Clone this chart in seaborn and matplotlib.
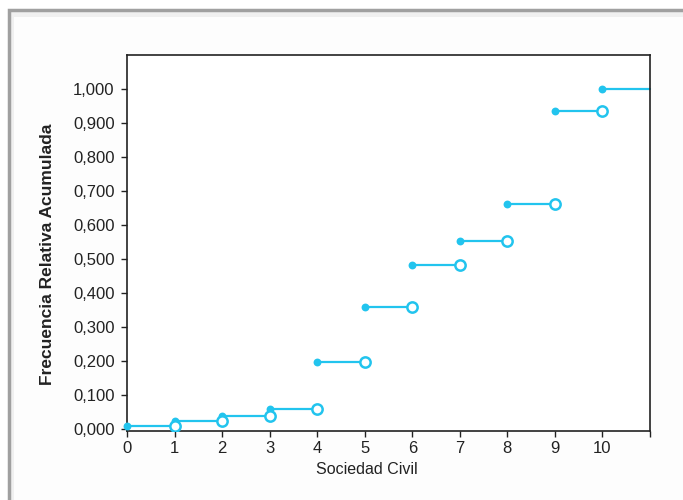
import pandas as pd
import seaborn as sns
import matplotlib.pyplot as plt
from matplotlib.ticker import FuncFormatter
from matplotlib.patches import Rectangle

# Step function data (cumulative relative frequency)
x_start = [0, 1, 2, 3, 4, 5, 6, 7, 8, 9, 10]
x_end = [1, 2, 3, 4, 5, 6, 7, 8, 9, 10, 11]
frec_acum = [0.010, 0.024, 0.039, 0.059, 0.197, 0.360, 0.483, 0.552, 0.662, 0.936, 1.000]
x_ticks = [0, 1, 2, 3, 4, 5, 6, 7, 8, 9, 10, 11]
x_tick_labels = ["0", "1", "2", "3", "4", "5", "6", "7", "8", "9", "10", ""]

color = "#22c4ee"

sns.set_style("white")
plt.rcParams["font.family"] = ["Liberation Sans", "DejaVu Sans"]

# Segments table for seaborn
seg = pd.DataFrame({
    "x": x_start + x_end,
    "y": frec_acum + frec_acum,
    "seg": list(range(len(x_start))) * 2,
})
closed = pd.DataFrame({"x": x_start, "y": frec_acum})
opened = pd.DataFrame({"x": x_end[:-1], "y": frec_acum[:-1]})

fig = plt.figure(figsize=(6.83, 5.0), dpi=100)

# outer frame of the original screenshot
frame1 = Rectangle((9 / 683, -0.1), 1.2, 1.0 - 10 / 500 + 0.1, transform=fig.transFigure,
                   facecolor="#f0f0f0", edgecolor="#a0a0a0", linewidth=2.5, zorder=-2)
frame2 = Rectangle((14 / 683, -0.1), 1.2, 1.0 - 17 / 500 + 0.1, transform=fig.transFigure,
                   facecolor="#fdfdfd", edgecolor="none", zorder=-1)
fig.add_artist(frame1)
fig.add_artist(frame2)

ax = fig.add_axes([127 / 683, 1 - 431 / 500, (650 - 127) / 683, (431 - 55) / 500])
ax.set_zorder(1)
ax.set_facecolor("white")

sns.lineplot(data=seg, x="x", y="y", units="seg", estimator=None, color=color,
             linewidth=1.6, ax=ax, clip_on=False)
sns.scatterplot(data=closed, x="x", y="y", color=color, s=32, edgecolor=color,
                linewidth=0, ax=ax, zorder=3, clip_on=False)
sns.scatterplot(data=opened, x="x", y="y", facecolor="white", edgecolor=color,
                s=55, linewidth=1.8, ax=ax, zorder=4)

ax.set_xlim(0, 11)
ax.set_ylim(-0.006, 1.1)
ax.set_xticks(x_ticks)
ax.set_xticklabels(x_tick_labels)
ax.set_yticks([i / 10 for i in range(11)])
ax.yaxis.set_major_formatter(FuncFormatter(lambda v, p: f"{v:.3f}".replace(".", ",")))

for s in ax.spines.values():
    s.set_color("#222222")
    s.set_linewidth(1.2)

ax.tick_params(axis="both", direction="out", length=4, width=1, color="#222222",
               labelsize=12, labelcolor="#222222", left=True, bottom=True, pad=3)
ax.tick_params(axis="y", pad=5)
ax.set_xlabel("Sociedad Civil", fontsize=11.5, color="#222222")
ax.set_ylabel("Frecuencia Relativa Acumulada", fontsize=12.5, fontweight="bold",
              color="#222222")
ax.xaxis.set_label_coords(0.458, -0.082)
ax.yaxis.set_label_coords(-0.138, 0.47)

fig.savefig("out.png", dpi=100)
